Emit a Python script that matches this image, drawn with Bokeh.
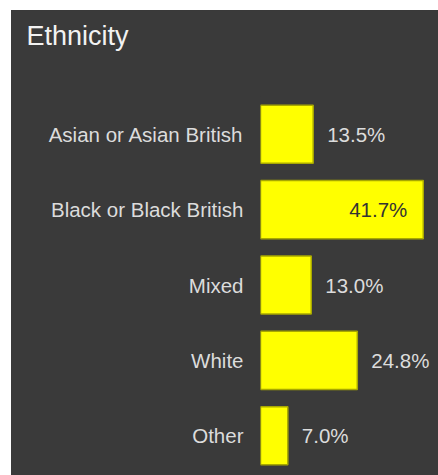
from bokeh.plotting import figure
from bokeh.models import ColumnDataSource, FactorRange, Range1d, Title
from bokeh.core.properties import value
from bokeh.embed import file_html
from bokeh.resources import INLINE

categories = ["Asian or Asian British", "Black or Black British", "Mixed", "White", "Other"]
percentages = [13.5, 41.7, 13.0, 24.8, 7.0]
title_text = "Ethnicity"

BG = "#3a3a3a"
FONT = "Liberation Sans"
LABEL_COLOR = "#dcdcdc"

vmax = max(percentages)
inside = [v == vmax for v in percentages]
source = ColumnDataSource(dict(
    cat=categories,
    val=percentages,
    txt=[f"{v:.1f}%" for v in percentages],
    xoff=[-16 if i else 14 for i in inside],
    align=["right" if i else "left" for i in inside],
    col=["#333333" if i else LABEL_COLOR for i in inside],
))

p = figure(
    width=427, height=465,
    y_range=FactorRange(factors=list(reversed(categories))),
    x_range=Range1d(0, 45.6),
    output_backend="svg", toolbar_location=None,
    min_border_left=249, min_border_right=0,
    min_border_top=0, min_border_bottom=2,
    background_fill_color=None, border_fill_color=BG,
)
p.margin = (10, 0, 0, 11)
p.styles = {"background-color": BG}
p.outline_line_color = None
p.outline_line_alpha = 0

# spacer between title and bars (closest to the frame)
spacer = Title(text=" ", text_font=FONT, text_font_size="27px",
               text_color=BG, standoff=6, align="left")
p.add_layout(spacer, "above")

title = Title(text=title_text, text_font=FONT, text_font_size="27px",
              text_font_style="normal", text_color="#f2f2f2",
              align="left", offset=-234, standoff=16)
p.add_layout(title, "above")

p.hbar(y="cat", right="val", left=0, height=0.77, source=source,
       fill_color="#ffff00", line_color="#a8a800", line_width=1.5)

p.text(x="val", y="cat", text="txt", source=source,
       x_offset="xoff", text_align="align", text_baseline="middle",
       text_color="col", text_font=value(FONT), text_font_size="20.5px")

p.xaxis.visible = False
p.grid.visible = False
ya = p.yaxis[0]
ya.axis_line_color = None
ya.major_tick_line_color = None
ya.minor_tick_line_color = None
ya.major_tick_out = 0
ya.major_tick_in = 0
ya.major_label_standoff = 17
ya.major_label_text_font = FONT
ya.major_label_text_font_size = "20.5px"
ya.major_label_text_color = LABEL_COLOR

open("out.html", "w").write(file_html(p, INLINE))
